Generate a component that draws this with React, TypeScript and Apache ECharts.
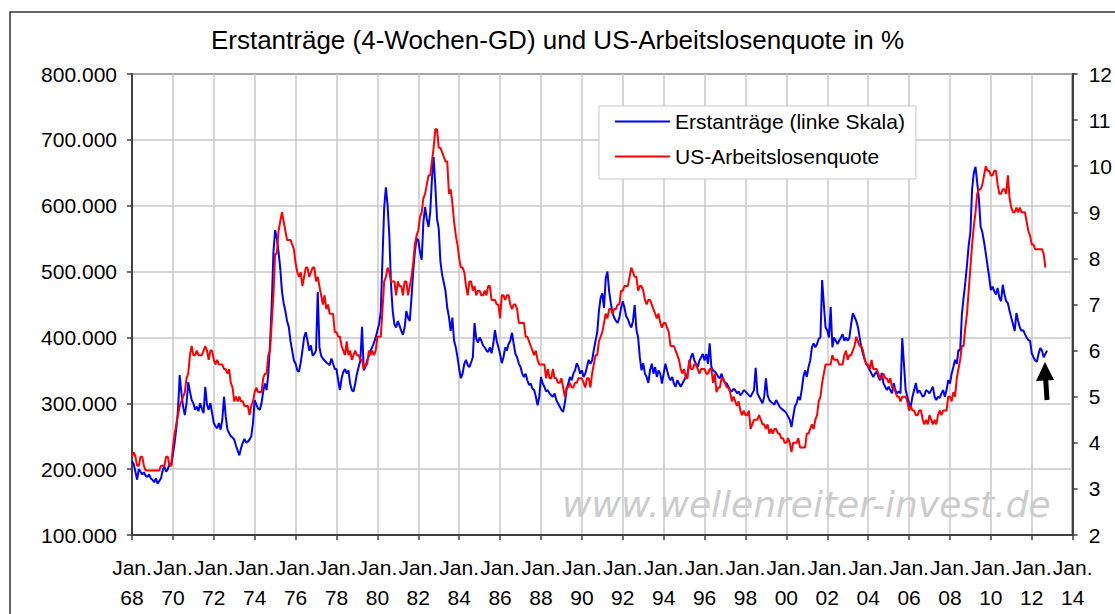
import React, { useEffect, useRef } from "react";
import * as echarts from "echarts";

const START_YEAR = 1968;
const X_MIN = 1968;
const X_MAX = 2014;
const X_STEP = 2;

const TITLE = "Erstanträge (4-Wochen-GD) und US-Arbeitslosenquote in %";
const SERIES_CLAIMS = "Erstanträge (linke Skala)";
const SERIES_RATE = "US-Arbeitslosenquote";
const WATERMARK = "www.wellenreiter-invest.de";

// Initial claims, 4-week average, thousands, monthly from Jan 1968
const claims: number[] = [
  212, 208, 196, 184, 200, 196, 192, 195, 190, 188, 192, 186, // 1968
  184, 180, 186, 178, 182, 186, 198, 204, 196, 200, 208, 205, // 1969
  222, 240, 262, 290, 343, 315, 295, 282, 300, 332, 318, 305, // 1970
  300, 290, 295, 288, 300, 292, 285, 325, 298, 290, 300, 285, // 1971
  270, 265, 262, 270, 260, 275, 310, 280, 260, 255, 250, 248, // 1972
  245, 236, 228, 221, 232, 240, 246, 240, 242, 245, 250, 270, // 1973
  305, 298, 292, 290, 300, 318, 330, 320, 345, 390, 450, 530, // 1974
  563, 550, 530, 505, 470, 452, 440, 425, 416, 395, 380, 365, // 1975
  360, 350, 348, 362, 380, 400, 408, 395, 380, 388, 372, 375, // 1976
  380, 469, 385, 372, 368, 365, 362, 360, 358, 368, 360, 352, // 1977
  352, 335, 320, 338, 348, 352, 345, 350, 330, 320, 318, 330, // 1978
  345, 355, 365, 416, 350, 355, 365, 372, 380, 385, 392, 400, // 1979
  410, 420, 440, 520, 598, 628, 600, 555, 480, 440, 420, 415, // 1980
  425, 418, 410, 404, 415, 440, 430, 425, 460, 500, 530, 550, // 1981
  548, 530, 518, 575, 598, 580, 568, 590, 640, 674, 630, 580, // 1982
  565, 515, 495, 483, 470, 445, 431, 410, 430, 395, 385, 370, // 1983
  352, 338, 345, 360, 366, 358, 355, 362, 370, 422, 398, 392, // 1984
  400, 395, 388, 385, 380, 378, 385, 376, 390, 411, 395, 385, // 1985
  375, 361, 370, 385, 380, 390, 395, 407, 390, 375, 370, 360, // 1986
  355, 345, 340, 345, 335, 328, 330, 322, 320, 310, 297, 310, // 1987
  340, 330, 325, 318, 320, 315, 312, 310, 315, 305, 300, 295, // 1988
  290, 287, 300, 320, 330, 340, 335, 345, 350, 361, 355, 345, // 1989
  350, 340, 345, 355, 366, 360, 365, 381, 395, 407, 440, 460, // 1990
  467, 445, 490, 500, 470, 452, 437, 430, 425, 422, 430, 445, // 1991
  455, 445, 432, 428, 420, 415, 425, 449, 412, 400, 370, 350, // 1992
  361, 345, 340, 331, 350, 360, 345, 355, 340, 350, 345, 330, // 1993
  345, 360, 350, 340, 335, 340, 330, 325, 335, 330, 325, 330, // 1994
  335, 340, 345, 360, 370, 376, 365, 360, 355, 365, 370, 375, // 1995
  365, 375, 360, 391, 355, 350, 348, 345, 340, 338, 345, 335, // 1996
  331, 330, 325, 320, 318, 322, 320, 315, 318, 312, 315, 320, // 1997
  318, 315, 312, 310, 315, 320, 354, 315, 310, 305, 300, 310, // 1998
  338, 312, 305, 302, 300, 298, 305, 300, 295, 292, 290, 288, // 1999
  285, 280, 275, 264, 280, 295, 300, 310, 305, 320, 340, 350, // 2000
  340, 355, 365, 385, 391, 385, 390, 398, 400, 487, 450, 415, // 2001
  411, 400, 446, 385, 400, 395, 390, 395, 400, 405, 395, 400, // 2002
  395, 400, 420, 437, 431, 425, 416, 400, 385, 375, 366, 360, // 2003
  355, 350, 345, 340, 345, 348, 340, 335, 346, 330, 325, 320, // 2004
  325, 320, 315, 331, 320, 315, 318, 315, 399, 360, 320, 310, // 2005
  300, 295, 310, 320, 331, 315, 320, 315, 310, 312, 320, 318, // 2006
  315, 320, 325, 310, 305, 310, 308, 315, 320, 310, 320, 335, // 2007
  330, 345, 355, 366, 360, 381, 380, 435, 460, 483, 510, 540, // 2008
  560, 625, 650, 659, 635, 610, 568, 560, 545, 528, 510, 492, // 2009
  472, 477, 470, 465, 475, 460, 455, 480, 465, 455, 452, 440, // 2010
  430, 420, 410, 437, 425, 415, 410, 411, 405, 400, 396, 395, // 2011
  376, 370, 365, 363, 375, 384, 380, 370, 375, 380, // 2012
];

// US unemployment rate, %, monthly from Jan 1968
const unemployment: number[] = [
  3.7, 3.8, 3.7, 3.5, 3.5, 3.7, 3.7, 3.5, 3.4, 3.4, 3.4, 3.4, // 1968
  3.4, 3.4, 3.4, 3.4, 3.4, 3.5, 3.5, 3.5, 3.7, 3.7, 3.5, 3.5, // 1969
  3.9, 4.2, 4.4, 4.6, 4.8, 4.9, 5.0, 5.1, 5.4, 5.5, 5.9, 6.1, // 1970
  5.9, 5.9, 6.0, 5.9, 5.9, 5.9, 6.0, 6.1, 6.0, 5.8, 6.0, 6.0, // 1971
  5.8, 5.7, 5.8, 5.7, 5.7, 5.7, 5.6, 5.6, 5.5, 5.6, 5.3, 5.2, // 1972
  4.9, 5.0, 4.9, 5.0, 4.9, 4.9, 4.8, 4.8, 4.8, 4.6, 4.8, 4.9, // 1973
  5.1, 5.2, 5.1, 5.1, 5.1, 5.4, 5.5, 5.5, 5.9, 6.0, 6.6, 7.2, // 1974
  8.1, 8.1, 8.6, 8.8, 9.0, 8.8, 8.6, 8.4, 8.4, 8.4, 8.3, 8.2, // 1975
  7.9, 7.7, 7.6, 7.7, 7.4, 7.6, 7.8, 7.8, 7.6, 7.7, 7.8, 7.8, // 1976
  7.5, 7.6, 7.4, 7.2, 7.0, 7.2, 6.9, 7.0, 6.8, 6.8, 6.8, 6.4, // 1977
  6.4, 6.3, 6.3, 6.1, 6.0, 5.9, 6.2, 5.9, 6.0, 5.8, 5.9, 6.0, // 1978
  5.9, 5.9, 5.8, 5.8, 5.6, 5.7, 5.7, 6.0, 5.9, 6.0, 5.9, 6.0, // 1979
  6.3, 6.3, 6.3, 6.9, 7.5, 7.6, 7.8, 7.7, 7.5, 7.5, 7.5, 7.2, // 1980
  7.5, 7.4, 7.4, 7.2, 7.5, 7.5, 7.2, 7.4, 7.6, 7.9, 8.3, 8.5, // 1981
  8.6, 8.9, 9.0, 9.3, 9.4, 9.6, 9.8, 9.8, 10.1, 10.4, 10.8, 10.8, // 1982
  10.4, 10.4, 10.3, 10.2, 10.1, 10.1, 9.4, 9.5, 9.2, 8.8, 8.5, 8.3, // 1983
  8.0, 7.8, 7.8, 7.7, 7.4, 7.2, 7.5, 7.5, 7.3, 7.4, 7.2, 7.3, // 1984
  7.3, 7.2, 7.2, 7.3, 7.2, 7.4, 7.4, 7.1, 7.1, 7.1, 7.0, 7.0, // 1985
  6.7, 7.2, 7.2, 7.1, 7.2, 7.2, 7.0, 6.9, 7.0, 7.0, 6.9, 6.6, // 1986
  6.6, 6.6, 6.6, 6.3, 6.3, 6.2, 6.1, 6.0, 5.9, 6.0, 5.8, 5.7, // 1987
  5.7, 5.7, 5.7, 5.4, 5.6, 5.4, 5.4, 5.6, 5.4, 5.4, 5.3, 5.3, // 1988
  5.4, 5.2, 5.0, 5.2, 5.2, 5.3, 5.2, 5.2, 5.3, 5.3, 5.4, 5.4, // 1989
  5.4, 5.3, 5.2, 5.4, 5.4, 5.2, 5.5, 5.7, 5.9, 5.9, 6.2, 6.3, // 1990
  6.4, 6.6, 6.8, 6.7, 6.9, 6.9, 6.8, 6.9, 6.9, 7.0, 7.0, 7.3, // 1991
  7.3, 7.4, 7.4, 7.4, 7.6, 7.8, 7.7, 7.6, 7.6, 7.3, 7.4, 7.4, // 1992
  7.3, 7.1, 7.0, 7.1, 7.1, 7.0, 6.9, 6.8, 6.7, 6.8, 6.6, 6.5, // 1993
  6.6, 6.6, 6.5, 6.4, 6.1, 6.1, 6.1, 6.0, 5.9, 5.8, 5.6, 5.5, // 1994
  5.6, 5.4, 5.4, 5.8, 5.6, 5.6, 5.7, 5.7, 5.6, 5.5, 5.6, 5.6, // 1995
  5.6, 5.5, 5.5, 5.6, 5.6, 5.3, 5.5, 5.1, 5.2, 5.2, 5.4, 5.4, // 1996
  5.3, 5.2, 5.2, 5.1, 4.9, 5.0, 4.9, 4.8, 4.9, 4.7, 4.6, 4.7, // 1997
  4.6, 4.6, 4.7, 4.3, 4.4, 4.5, 4.5, 4.5, 4.6, 4.5, 4.4, 4.4, // 1998
  4.3, 4.4, 4.2, 4.3, 4.2, 4.3, 4.3, 4.2, 4.2, 4.1, 4.1, 4.0, // 1999
  4.0, 4.1, 4.0, 3.8, 4.0, 4.0, 4.0, 4.1, 3.9, 3.9, 3.9, 3.9, // 2000
  4.2, 4.2, 4.3, 4.4, 4.3, 4.5, 4.6, 4.9, 5.0, 5.3, 5.5, 5.7, // 2001
  5.7, 5.7, 5.7, 5.9, 5.8, 5.8, 5.8, 5.7, 5.7, 5.7, 5.9, 6.0, // 2002
  5.8, 5.9, 5.9, 6.0, 6.1, 6.3, 6.2, 6.1, 6.1, 6.0, 5.8, 5.7, // 2003
  5.7, 5.6, 5.8, 5.6, 5.6, 5.6, 5.5, 5.4, 5.4, 5.5, 5.4, 5.4, // 2004
  5.3, 5.4, 5.2, 5.2, 5.1, 5.0, 5.0, 4.9, 5.0, 5.0, 5.0, 4.9, // 2005
  4.7, 4.8, 4.7, 4.7, 4.6, 4.6, 4.7, 4.7, 4.5, 4.4, 4.5, 4.4, // 2006
  4.6, 4.5, 4.4, 4.5, 4.4, 4.6, 4.7, 4.6, 4.7, 4.7, 4.7, 5.0, // 2007
  5.0, 4.9, 5.1, 5.0, 5.4, 5.6, 5.8, 6.1, 6.1, 6.5, 6.8, 7.3, // 2008
  7.8, 8.3, 8.7, 9.0, 9.4, 9.5, 9.5, 9.6, 9.8, 10.0, 9.9, 9.9, // 2009
  9.8, 9.8, 9.9, 9.9, 9.6, 9.4, 9.4, 9.5, 9.5, 9.4, 9.8, 9.3, // 2010
  9.1, 9.0, 9.0, 9.1, 9.0, 9.1, 9.0, 9.0, 9.0, 8.8, 8.6, 8.5, // 2011
  8.3, 8.3, 8.2, 8.2, 8.2, 8.2, 8.2, 8.1, 7.8, // 2012
];

const LEFT_MIN = 100000;
const LEFT_MAX = 800000;
const LEFT_STEP = 100000;
const RIGHT_MIN = 2;
const RIGHT_MAX = 12;
const RIGHT_STEP = 1;

const FONT = "'Liberation Sans', Arial, sans-serif";

function fmtThousands(v: number): string {
  const s = Math.round(v).toString();
  return s.replace(/\B(?=(\d{3})+(?!\d))/g, ".");
}

export default function App() {
  const ref = useRef<HTMLDivElement>(null);

  useEffect(() => {
    if (!ref.current) return;
    const chart = echarts.init(ref.current, undefined, { renderer: "svg" });

    const claimsData = claims.map((v, i) => [START_YEAR + i / 12, v * 1000]);
    const rateData = unemployment.map((v, i) => [START_YEAR + i / 12, v]);

    const option: any = {
      animation: false,
      backgroundColor: "#ffffff",
      title: {
        text: TITLE,
        left: "center",
        top: 27,
        padding: 0,
        textStyle: { fontSize: 26, fontWeight: "normal", color: "#000", fontFamily: FONT },
      },
      legend: {
        orient: "vertical",
        left: 599,
        top: 106,
        itemWidth: 55,
        itemHeight: 2,
        itemGap: 14,
        padding: [5, 11, 12, 16],
        backgroundColor: "#ffffff",
        borderColor: "#c8c8c8",
        borderWidth: 1,
        borderRadius: 0,
        textStyle: { fontSize: 21, lineHeight: 20, color: "#000", fontFamily: FONT },
        data: [
          { name: SERIES_CLAIMS, icon: "rect" },
          { name: SERIES_RATE, icon: "rect" },
        ],
      },
      grid: {
        left: 132,
        right: 39,
        top: 74,
        bottom: 79,
        show: true,
        borderColor: "#404040",
        borderWidth: 2,
        backgroundColor: "transparent",
      },
      xAxis: {
        type: "value",
        min: X_MIN,
        max: X_MAX,
        interval: X_STEP,
        axisLine: { lineStyle: { color: "#404040", width: 2 } },
        axisTick: { length: 5, lineStyle: { color: "#404040", width: 1.5 } },
        axisLabel: {
          formatter: (v: number) => "Jan.\n" + String(Math.round(v) % 100).padStart(2, "0"),
          fontSize: 21,
          lineHeight: 30,
          color: "#000",
          fontFamily: FONT,
          margin: 17,
          showMinLabel: true,
          showMaxLabel: true,
        },
        splitLine: { show: true, lineStyle: { color: "#c8c8c8", width: 1.5 } },
      },
      yAxis: [
        {
          type: "value",
          position: "left",
          min: LEFT_MIN,
          max: LEFT_MAX,
          interval: LEFT_STEP,
          axisLine: { show: true, lineStyle: { color: "#404040", width: 2 } },
          axisTick: { show: true, length: 5, lineStyle: { color: "#404040", width: 1.5 } },
          axisLabel: {
            formatter: (v: number) => fmtThousands(v),
            fontSize: 21,
            color: "#000",
            fontFamily: FONT,
            margin: 15,
          },
          splitLine: { show: true, lineStyle: { color: "#c8c8c8", width: 1.5 } },
        },
        {
          type: "value",
          position: "right",
          min: RIGHT_MIN,
          max: RIGHT_MAX,
          interval: RIGHT_STEP,
          axisLine: { show: true, lineStyle: { color: "#404040", width: 2 } },
          axisTick: { show: true, length: 5, lineStyle: { color: "#404040", width: 1.5 } },
          axisLabel: { fontSize: 21, color: "#000", fontFamily: FONT, margin: 16 },
          splitLine: { show: false },
        },
      ],
      series: [
        {
          name: SERIES_CLAIMS,
          type: "line",
          yAxisIndex: 0,
          data: claimsData,
          showSymbol: false,
          symbol: "none",
          lineStyle: { color: "#0000ff", width: 2 },
          itemStyle: { color: "#0000ff" },
          z: 3,
        },
        {
          name: SERIES_RATE,
          type: "line",
          yAxisIndex: 1,
          data: rateData,
          showSymbol: false,
          symbol: "none",
          lineStyle: { color: "#ff0000", width: 2 },
          itemStyle: { color: "#ff0000" },
          z: 4,
        },
      ],
      graphic: [
        {
          type: "rect",
          shape: { x: 10, y: 12, width: 1130, height: 640 },
          style: { fill: "none", stroke: "#333333", lineWidth: 1.5 },
          silent: true,
          z: -10,
        },
        {
          type: "text",
          x: 562,
          y: 504,
          style: {
            text: WATERMARK,
            fontSize: 36,
            fontStyle: "italic",
            fontFamily: "'DejaVu Sans', Verdana, sans-serif",
            fill: "#cccccc",
            verticalAlign: "middle",
          },
          silent: true,
          z: 1,
        },
        {
          type: "line",
          shape: { x1: 1047, y1: 400, x2: 1045.5, y2: 376 },
          style: { stroke: "#000", lineWidth: 5 },
          z: 20,
        },
        {
          type: "polygon",
          shape: { points: [[1045, 362], [1036, 381], [1054, 380]] },
          style: { fill: "#000" },
          z: 20,
        },
      ],
    };

    chart.setOption(option);
    return () => {
      chart.dispose();
    };
  }, []);

  return (
    <div
      ref={ref}
      style={{ position: "absolute", left: 0, top: 0, width: 1115, height: 614, background: "#fff" }}
    />
  );
}
